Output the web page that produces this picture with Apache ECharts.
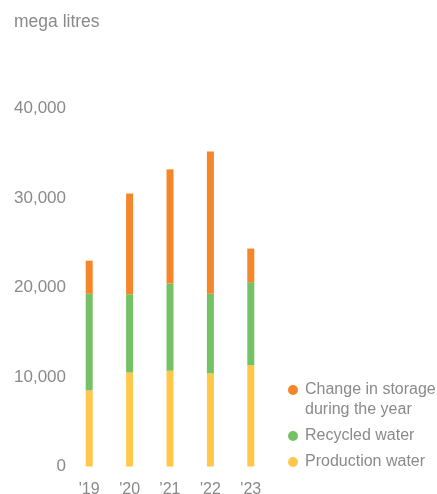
<!DOCTYPE html>
<html>
<head>
<meta charset="utf-8">
<script src="https://cdn.jsdelivr.net/npm/echarts@6/dist/echarts.min.js"></script>
<style>
html, body { margin: 0; padding: 0; background: #fff; }
#chart { width: 437px; height: 494px; }
</style>
</head>
<body>
<div id="chart"></div>
<script>
var years = ["'19", "'20", "'21", "'22", "'23"];
var production = [8500, 10500, 10700, 10400, 11300];
var recycled = [10800, 8750, 9750, 8900, 9300];
var storage = [3700, 11250, 12750, 15900, 3750];

var names = ['Change in storage during the year', 'Recycled water', 'Production water'];
var colors = {orange: '#f5862a', green: '#74c166', yellow: '#ffc84a'};

var chart = echarts.init(document.getElementById('chart'));
var font = 'Liberation Sans, Arial, Helvetica, sans-serif';

var option = {
	animation: false,
	title: {
		text: 'mega litres',
		left: 14,
		top: 13,
		padding: 0,
		textStyle: { fontFamily: font, fontSize: 17.5, fontWeight: 'normal', color: '#8a8a8a' }
	},
	legend: {
		orient: 'vertical',
		left: 288,
		top: 360,
		padding: 0,
		itemGap: 6,
		itemWidth: 14,
		itemHeight: 10,
		icon: 'circle',
		data: names,
		formatter: function (name) {
			// blank first line keeps the icon level with "Change in storage"
			if (name === names[0]) return '{a| }\n{a|Change in storage}\n{a|during the year}';
			return name;
		},
		textStyle: {
			fontFamily: font, fontSize: 16, color: '#8a8a8a', lineHeight: 20,
			rich: { a: { fontFamily: font, fontSize: 16, color: '#8a8a8a', lineHeight: 20 } }
		}
	},
	grid: { left: 69, top: 108.5, width: 202, height: 358, outerBoundsMode: 'none', containLabel: false },
	xAxis: {
		type: 'category',
		data: years,
		axisLine: { show: false },
		axisTick: { show: false },
		axisLabel: { margin: 15, fontFamily: font, fontSize: 16, color: '#8a8a8a' }
	},
	yAxis: {
		type: 'value',
		min: 0,
		max: 40000,
		interval: 10000,
		splitLine: { show: false },
		axisLine: { show: false },
		axisTick: { show: false },
		axisLabel: {
			align: 'right',
			margin: 3,
			padding: [0, 0, 5, 0],
			fontFamily: font,
			fontSize: 17,
			color: '#8a8a8a',
			formatter: function (v) { return v.toLocaleString('en-US'); }
		}
	},
	series: [
		{ name: names[2], type: 'bar', stack: 'water', barWidth: 7, data: production, itemStyle: { color: colors.yellow } },
		{ name: names[1], type: 'bar', stack: 'water', barWidth: 7, data: recycled, itemStyle: { color: colors.green } },
		{ name: names[0], type: 'bar', stack: 'water', barWidth: 7, data: storage, itemStyle: { color: colors.orange } }
	]
};

chart.setOption(option);
</script>
</body>
</html>
